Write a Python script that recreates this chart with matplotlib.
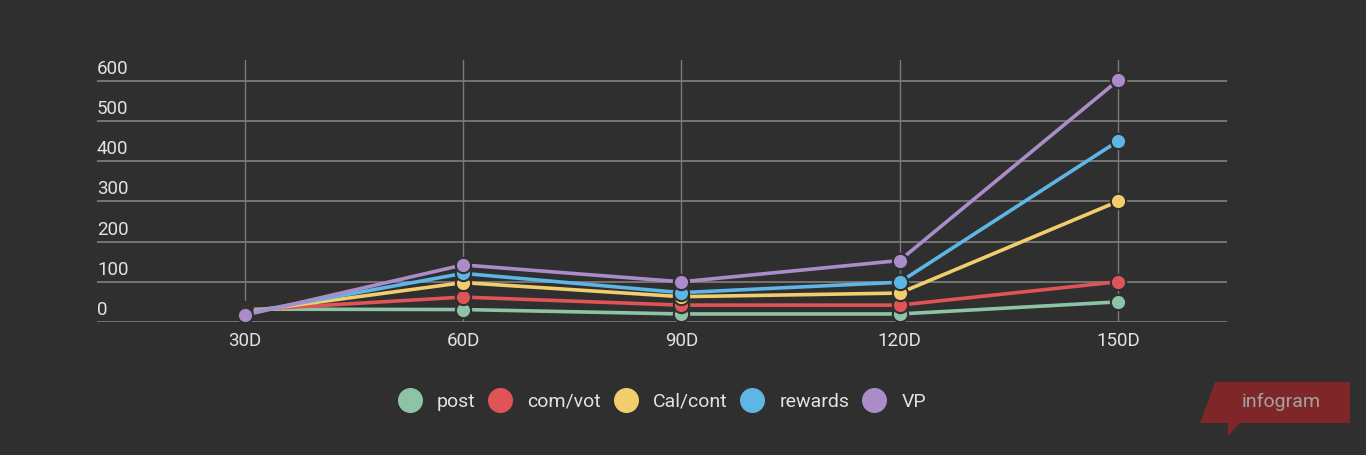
import matplotlib
matplotlib.use("Agg")
import matplotlib.pyplot as plt
from matplotlib.lines import Line2D
from matplotlib.patches import Polygon
import matplotlib.transforms as mtransforms

categories = ["30D", "60D", "90D", "120D", "150D"]
post = [32, 31, 20, 20, 50]
com_vot = [30, 62, 42, 42, 100]
cal_cont = [25, 98, 63, 72, 300]
rewards = [22, 121, 73, 99, 450]
vp = [17, 142, 100, 153, 601]
series_names = ["post", "com/vot", "Cal/cont", "rewards", "VP"]
colors = ["#8ec4a6", "#e05457", "#f1cd6c", "#5db6e6", "#aa8dc8"]
yticks = [0, 100, 200, 300, 400, 500, 600]

BG = "#2f2f2f"
TXT = "#e3e3e3"
GRID = "#7a7a7a"

plt.rcParams['font.family'] = ['Roboto', 'DejaVu Sans']

fig = plt.figure(figsize=(13.66, 4.55), dpi=100, facecolor=BG)
ax = fig.add_axes([97/1366, 133/455, 1130/1366, 262/455])
ax.set_facecolor(BG)
for s in ax.spines.values():
    s.set_visible(False)

x = list(range(len(categories)))
ax.set_xlim(-0.677, 4.5)
ax.set_ylim(0, 652)

for yt in yticks:
    ax.axhline(yt, color=GRID, lw=1.3, zorder=1)
for xi in x:
    ax.axvline(xi, color=GRID, lw=1.0, zorder=1)

for vals, c in zip([post, com_vot, cal_cont, rewards, vp], colors):
    ax.plot(x, vals, color=c, lw=2.6, marker='o', markersize=11,
            markeredgecolor=BG, markeredgewidth=1.5, zorder=3, clip_on=False)

ax.set_xticks(x)
ax.set_xticklabels(categories, color=TXT, fontsize=13.5)
ax.tick_params(axis='x', length=0, pad=7)
ax.set_yticks([])

trans = mtransforms.blended_transform_factory(ax.transAxes, ax.transData)
offset = mtransforms.ScaledTranslation(0, 3/100, fig.dpi_scale_trans)
for yt in yticks:
    ax.text(0, yt, str(yt), transform=trans + offset, ha='left', va='bottom',
            color=TXT, fontsize=13.5)

handles = [Line2D([0], [0], marker='o', color='none', markerfacecolor=c,
                  markeredgecolor=c, markersize=17) for c in colors]
fig.legend(handles, series_names, loc='center', bbox_to_anchor=(662/1366, 1 - 402/455),
           ncol=5, frameon=False, fontsize=14, labelcolor=TXT,
           handletextpad=0.8, columnspacing=0.67, handlelength=1.2)

# infogram badge
pts = [(1215, 382), (1350, 382), (1350, 423), (1240, 423), (1228, 436), (1228, 423), (1200, 423)]
poly = Polygon([(px/1366, 1 - py/455) for px, py in pts], closed=True,
               transform=fig.transFigure, facecolor="#7f2629", edgecolor='none')
fig.patches.append(poly)
fig.text(1281/1366, 1 - 402/455, "infogram", ha='center', va='center',
         color="#a3a3a3", fontsize=14)

fig.savefig("out.png", dpi=100, facecolor=BG)
